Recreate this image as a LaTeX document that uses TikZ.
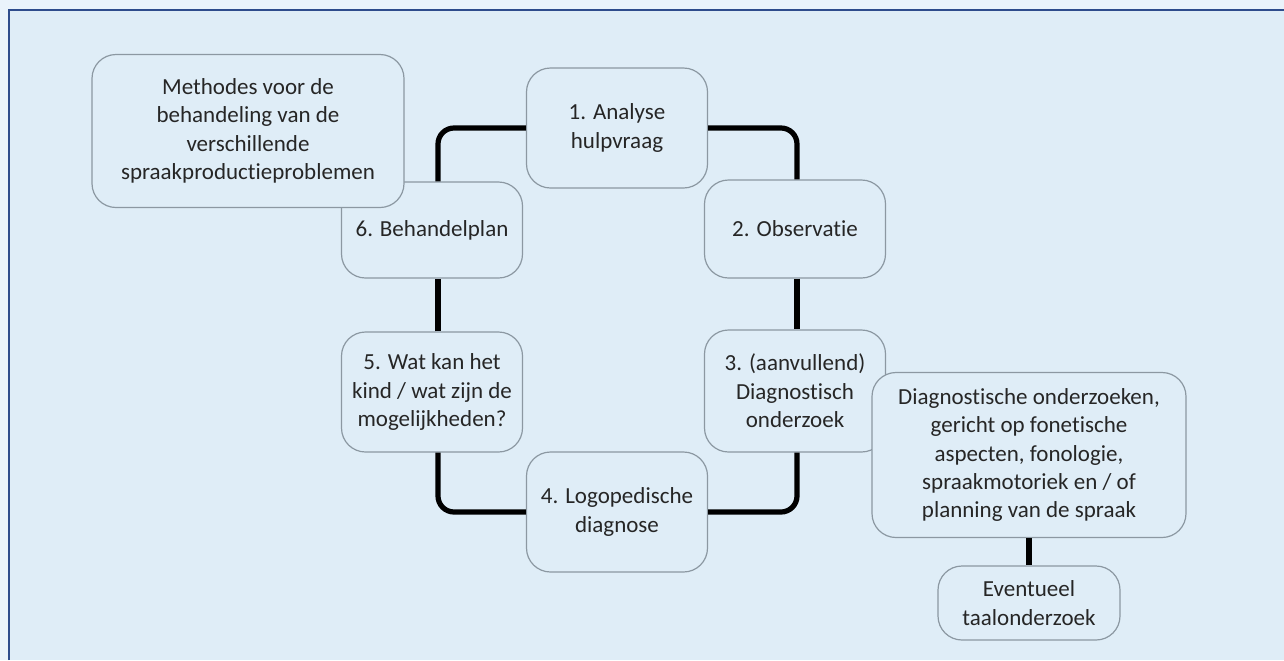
\documentclass[tikz,border=0pt]{standalone}
\usepackage{fontspec}
\setmainfont[Ligatures=NoCommon]{Carlito}
\usepackage{xcolor}
\usepackage{tikz}
\usetikzlibrary{positioning, calc}

\definecolor{pagebg}{HTML}{EAF3FB}
\definecolor{panelbg}{HTML}{DFEDF7}
\definecolor{panelline}{HTML}{2E4C8C}
\definecolor{boxline}{HTML}{8C98A2}
\definecolor{boxtext}{HTML}{262626}

\begin{document}
\begin{tikzpicture}[
    x=0.5pt, y=-0.5pt,
    box/.style={rectangle, rounded corners=12pt, draw=boxline, line width=0.6pt, fill=panelbg, text=boxtext, align=center, inner sep=0pt, font=\fontsize{11.5}{14.2}\selectfont},
    step box/.style={box, minimum width=90.5pt, minimum height=60pt},
    link/.style={line width=2.6pt, rounded corners=8pt}
]
\useasboundingbox (0,0) rectangle (1284,660);
\fill[pagebg] (0,0) rectangle (1284,660);
\fill[panelbg] (9,10) rectangle (1284,660);
\draw[panelline, line width=1pt] (9,660) -- (9,10) -- (1284,10);

% cycle
\node [step box] (analyse) at (617,128) {1. Analyse\\hulpvraag};
\node [step box, minimum height=49pt] (observatie) at (795,229) {2. Observatie};
\node [step box, minimum height=61pt] (onderzoek) at (795,391) {3. (aanvullend)\\Diagnostisch\\onderzoek};
\node [step box] (diagnose) at (617,512) {4. Logopedische\\diagnose};
\node [step box] (mogelijk) at (432,392) {5. Wat kan het\\kind / wat zijn de\\mogelijkheden?};
\node [step box, minimum height=48pt] (plan) at (432,230) {6. Behandelplan};

\draw [link] (analyse.west) -| ($(plan.north)+(6,0)$);
\draw [link] (analyse.east) -| ($(observatie.north)+(2,0)$);
\draw [link] ($(observatie.south)+(2,0)$) -- ($(onderzoek.north)+(2,0)$);
\draw [link] ($(onderzoek.south)+(2,0)$) |- (diagnose.east);
\draw [link] (diagnose.west) -| ($(mogelijk.south)+(6,0)$);
\draw [link] ($(mogelijk.north)+(6,0)$) -- ($(plan.south)+(6,0)$);

% side notes
\node [box, minimum width=156pt, minimum height=76.5pt] (methodes) at (248,131)
    {Methodes voor de\\behandeling van de\\verschillende\\spraakproductieproblemen};
\node [box, minimum width=157pt, minimum height=82.5pt] (onderzoeken) at (1029,455)
    {Diagnostische onderzoeken,\\gericht op fonetische\\aspecten, fonologie,\\spraakmotoriek en / of\\planning van de spraak};
\node [box, minimum width=91pt, minimum height=37pt] (taal) at (1029,603) {Eventueel\\taalonderzoek};

\draw [link] (onderzoeken) -- (taal);
\end{tikzpicture}
\end{document}
